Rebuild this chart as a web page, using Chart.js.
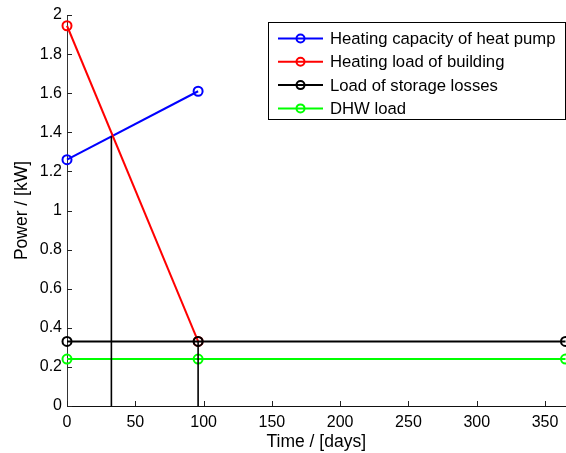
<!DOCTYPE html>
<html>
<head>
<meta charset="utf-8">
<script src="https://cdn.jsdelivr.net/npm/chart.js@4"></script>
<style>
  html, body { margin: 0; padding: 0; background: #fff; overflow: hidden; }
  #wrap { width: 572px; height: 453px; }
</style>
</head>
<body>
<div id="wrap"><canvas id="c" width="572" height="453"></canvas></div>
<script>
// Daily power balance of the heating system over one year
const seriesLabels = [
  'Heating capacity of heat pump',
  'Heating load of building',
  'Load of storage losses',
  'DHW load'
];
const seriesColors = ['#0000ff', '#ff0000', '#000000', '#00ff00'];

const capacityDays = [0, 96];
const capacityKW   = [1.26, 1.61];

const buildingDays = [0, 96];
const buildingKW   = [1.945, 0.33];

const lossesDays = [0, 96, 365];
const lossesKW   = [0.33, 0.33, 0.33];

const dhwDays = [0, 96, 365];
const dhwKW   = [0.24, 0.24, 0.24];

// vertical markers: balance point and end of heating season
const balanceDays = [32.5, 32.5];
const balanceKW   = [0, 1.38];
const seasonEndDays = [96, 96];
const seasonEndKW   = [0, 0.33];

const xTicks = [0, 50, 100, 150, 200, 250, 300, 350];
const yTicks = [0, 0.2, 0.4, 0.6, 0.8, 1, 1.2, 1.4, 1.6, 1.8, 2];

const toPts = (xs, ys) => xs.map((x, i) => ({ x, y: ys[i] }));

function seriesDataset(i, xs, ys, order) {
  return {
    label: seriesLabels[i],
    data: toPts(xs, ys),
    borderColor: seriesColors[i],
    backgroundColor: 'rgba(0,0,0,0)',
    borderWidth: 2,
    pointRadius: 4.5,
    pointBorderWidth: 2,
    pointBackgroundColor: 'rgba(0,0,0,0)',
    pointBorderColor: seriesColors[i],
    showLine: true,
    order
  };
}

function guideDataset(xs, ys) {
  return {
    label: '',
    data: toPts(xs, ys),
    borderColor: '#000000',
    borderWidth: 1.6,
    pointRadius: 0,
    showLine: true,
    order: 0
  };
}

const FONT = 'Liberation Sans, Arial, Helvetica, sans-serif';

// Inward tick marks on the left and bottom axes
const inwardTicks = {
  id: 'inwardTicks',
  afterDatasetsDraw(chart) {
    const { ctx, chartArea: a, scales: { x, y } } = chart;
    ctx.save();
    ctx.strokeStyle = '#222';
    ctx.lineWidth = 1;
    xTicks.forEach(v => {
      const px = Math.round(x.getPixelForValue(v)) + 0.5;
      ctx.beginPath(); ctx.moveTo(px, a.bottom); ctx.lineTo(px, a.bottom - 5); ctx.stroke();
    });
    yTicks.forEach(v => {
      const py = Math.round(y.getPixelForValue(v)) + 0.5;
      ctx.beginPath(); ctx.moveTo(a.left, py); ctx.lineTo(a.left + 5, py); ctx.stroke();
    });
    ctx.restore();
  }
};

// Boxed legend in the upper right corner
const boxLegend = {
  id: 'boxLegend',
  afterDraw(chart) {
    const { ctx } = chart;
    const left = 268.5, top = 22.5, right = 565.5, bottom = 119.5;
    ctx.save();
    ctx.fillStyle = '#fff';
    ctx.fillRect(left, top, right - left, bottom - top);
    ctx.strokeStyle = '#000';
    ctx.lineWidth = 1;
    ctx.strokeRect(left, top, right - left, bottom - top);
    ctx.font = '16.7px ' + FONT;
    ctx.textBaseline = 'middle';
    ctx.textAlign = 'left';
    seriesLabels.forEach((lab, i) => {
      const yy = 38.5 + i * 23.3;
      ctx.strokeStyle = seriesColors[i];
      ctx.lineWidth = 2;
      ctx.beginPath(); ctx.moveTo(278, yy); ctx.lineTo(323, yy); ctx.stroke();
      ctx.beginPath(); ctx.arc(300.5, yy, 4, 0, Math.PI * 2); ctx.stroke();
      ctx.fillStyle = '#000';
      ctx.fillText(lab, 330, yy + 1);
    });
    ctx.restore();
  }
};

new Chart(document.getElementById('c'), {
  type: 'scatter',
  data: {
    datasets: [
      seriesDataset(0, capacityDays, capacityKW, 4),
      seriesDataset(1, buildingDays, buildingKW, 3),
      seriesDataset(2, lossesDays, lossesKW, 1),
      seriesDataset(3, dhwDays, dhwKW, 2),
      guideDataset(balanceDays, balanceKW),
      guideDataset(seasonEndDays, seasonEndKW)
    ]
  },
  options: {
    responsive: false,
    animation: false,
    clip: false,
    layout: { padding: { top: 15, right: 4, left: 0, bottom: 0 } },
    plugins: { legend: { display: false }, tooltip: { enabled: false } },
    scales: {
      x: {
        type: 'linear',
        min: 0, max: 365,
        afterFit(s) { s.height = 47; },
        afterBuildTicks(s) { s.ticks = xTicks.map(v => ({ value: v })); },
        grid: { display: false, drawTicks: false },
        border: { display: true, color: '#111', width: 1 },
        ticks: { color: '#000', font: { family: FONT, size: 16 }, padding: 7, maxRotation: 0 },
        title: { display: true, text: 'Time / [days]', color: '#000',
                 font: { family: FONT, size: 17.5 }, padding: { top: 0, bottom: 0 } }
      },
      y: {
        type: 'linear',
        min: 0, max: 2,
        afterFit(s) { s.width = 67; },
        afterBuildTicks(s) { s.ticks = yTicks.map(v => ({ value: v })); },
        grid: { display: false, drawTicks: false },
        border: { display: true, color: '#333', width: 1 },
        ticks: { color: '#000', font: { family: FONT, size: 16 }, padding: 5,
                 callback: v => String(Math.round(v * 10) / 10) },
        title: { display: true, text: 'Power / [kW]', color: '#000',
                 font: { family: FONT, size: 17.5 }, padding: { top: 12, bottom: 0 } }
      }
    }
  },
  plugins: [inwardTicks, boxLegend]
});
</script>
</body>
</html>
